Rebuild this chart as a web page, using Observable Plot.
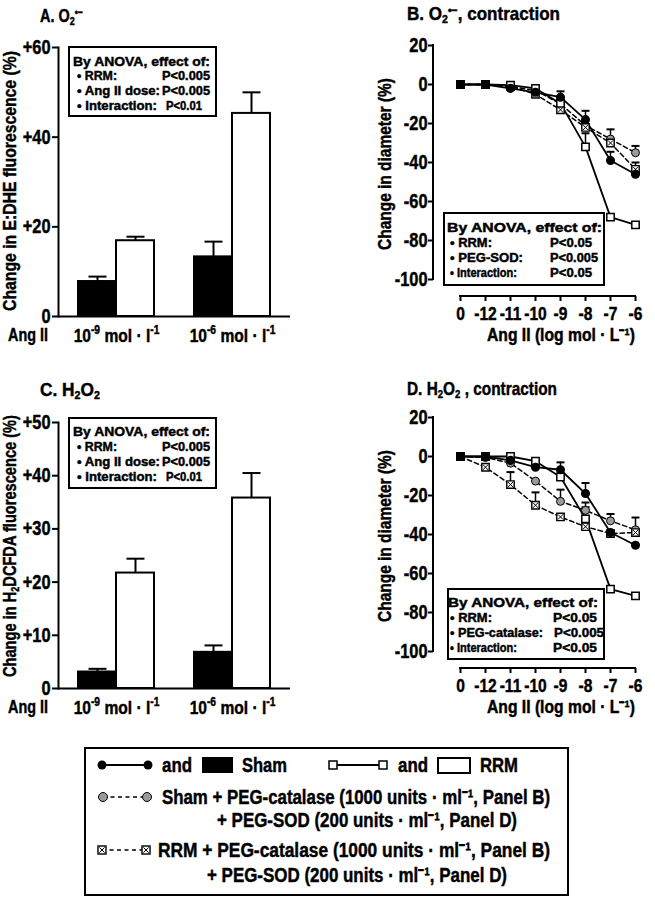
<!DOCTYPE html>
<html><head><meta charset="utf-8">
<script src="https://cdn.jsdelivr.net/npm/d3@7"></script>
<script src="https://cdn.jsdelivr.net/npm/@observablehq/plot@0.6"></script>
<style>
html,body{margin:0;padding:0;background:#fff;}
#fig{position:relative;width:655px;height:900px;overflow:hidden;background:#fff;color:#000;}
.t{position:absolute;white-space:nowrap;line-height:0.82;font-weight:bold;-webkit-text-stroke:0.45px #000;}
.t sup{font-size:0.62em;line-height:0;vertical-align:0.55em;}
.t sub{font-size:0.62em;line-height:0;vertical-align:-0.22em;}
.box{position:absolute;border:2px solid #000;background:#fff;box-sizing:border-box;}
.panel{position:absolute;}
</style></head>
<body><div id="fig"></div>
<script>
// ---------------- DATA ----------------
const doses = ["1e-9", "1e-6"];
const doseLabels = ["10^{-9} mol · l^{-1}", "10^{-6} mol · l^{-1}"];
const groups = ["Sham", "RRM"];

// Panel A: E:DHE fluorescence (%)
const aSham = [7.8, 13.3];
const aShamErr = [1.1, 3.4];
const aRRM = [16.9, 45.3];
const aRRMErr = [0.9, 4.7];
const aTicks = [0, 20, 40, 60];

// Panel C: H2DCFDA fluorescence (%)
const cSham = [3.1, 6.8];
const cShamErr = [0.6, 1.3];
const cRRM = [21.7, 35.8];
const cRRMErr = [2.7, 4.7];
const cTicks = [0, 10, 20, 30, 40, 50];

// Panels B and D: concentration-response
const concLabels = ["0", "-12", "-11", "-10", "-9", "-8", "-7", "-6"];
const lineTicks = [20, 0, -20, -40, -60, -80, -100];

const bSham = [0, 0, -2, -4, -6.5, -18, -39, -46];
const bShamErr = [0, 0, 0, 0, 3, 4.5, 4.5, 0];
const bRRM = [0, 0, -0.3, -2, -9.7, -32, -68, -72];
const bRRMErr = [0, 0, 0, 0, 0, 7, 0, 0];
const bShamPEG = [0, 0, -1, -3, -10, -21, -28, -35];
const bShamPEGErr = [0, 0, 0, 0, 0, 0, 5, 3.5];
const bRRMPEG = [0, 0, -1, -5, -13, -22, -30, -43.5];
const bRRMPEGErr = [0, 0, 0, 0, 0, 0, 0, 3.5];

const dSham = [0, 0, -2, -5.5, -6.8, -19, -39, -45.5];
const dShamErr = [0, 0, 0, 3.5, 3.8, 5.4, 0, 0];
const dRRM = [0, 0, 0, -2.4, -10.5, -32, -68, -71.5];
const dRRMErr = [0, 0, 0, 0, 0, 6, 0, 0];
const dShamPEG = [0, -0.5, -3.4, -12.6, -23, -27.6, -33, -37.6];
const dShamPEGErr = [0, 0, 0, 0, 6, 4, 3.5, 6.3];
const dRRMPEG = [0, -5.5, -14.4, -25, -31, -36, -39.5, -39];
const dRRMPEGErr = [0, 0, 6.4, 6.6, 0, 0, 0, 0];

const anovaA = ["By ANOVA, effect of:", ["• RRM:", "P<0.005"], ["• Ang II dose:", "P<0.005"], ["• Interaction:", "P<0.01"]];
const anovaB = ["By ANOVA, effect of:", ["• RRM:", "P<0.05"], ["• PEG-SOD:", "P<0.005"], ["• Interaction:", "P<0.05"]];
const anovaC = ["By ANOVA, effect of:", ["• RRM:", "P<0.005"], ["• Ang II dose:", "P<0.005"], ["• Interaction:", "P<0.01"]];
const anovaD = ["By ANOVA, effect of:", ["• RRM:", "P<0.05"], ["• PEG-catalase:", "P<0.005"], ["• Interaction:", "P<0.05"]];

// ---------------- HELPERS ----------------
function hasFont(name){const c=document.createElement("canvas").getContext("2d");c.font="bold 40px monospace";const a=c.measureText("abcdefghijklm").width;c.font=`bold 40px "${name}", monospace`;return Math.abs(c.measureText("abcdefghijklm").width-a)>0.5;}
const NARROW = hasFont("Liberation Sans Narrow");
const FONT = NARROW ? '"Liberation Sans Narrow", "Liberation Sans", sans-serif' : '"Liberation Sans", Arial, sans-serif';
const SQ = NARROW ? 1 : 0.82;
const fig = document.getElementById("fig");
fig.style.fontFamily = FONT;
const NS = "http://www.w3.org/2000/svg";

function supHTML(s){return s.replace(/\^\{([^}]*)\}/g, "<sup>$1</sup>");}
const SUPMAP = {"-": "⁻", "0": "⁰", "1": "¹", "2": "²", "3": "³", "4": "⁴", "5": "⁵", "6": "⁶", "7": "⁷", "8": "⁸", "9": "⁹"};
function supUni(s){return s.replace(/\^\{([^}]*)\}/g, (m, g) => [...g].map(c => SUPMAP[c] || c).join(""));}
function parseSup(s){const out=[];const re=/\^\{([^}]*)\}/g;let last=0,m;while((m=re.exec(s))){if(m.index>last)out.push([s.slice(last,m.index),false]);out.push([m[1],true]);last=re.lastIndex;}if(last<s.length)out.push([s.slice(last),false]);return out;}
function richSVG(t, s, base){const parts=parseSup(s);t.textContent="";let up=false;for(const [str,sup] of parts){const sp=document.createElementNS(NS,"tspan");sp.textContent=str;if(sup&&!up){sp.setAttribute("dy",-0.42*base);up=true;}else if(!sup&&up){sp.setAttribute("dy",0.42*base);up=false;}if(sup)sp.setAttribute("font-size",0.66*base);t.appendChild(sp);}}
function squeeze(svg){
  svg.querySelectorAll("text").forEach(t => {
    const x = +(t.getAttribute("x") || 0);
    const tr = t.getAttribute("transform") || "";
    if (SQ !== 1) t.setAttribute("transform", `${tr} translate(${x},0) scale(${SQ},1) translate(${-x},0)`);
    t.setAttribute("stroke", "black"); t.setAttribute("stroke-width", 0.45);
  });
}

function mk(html, {x, y, size=18, w, k, anchor="start", rot=false}) {
  const el = document.createElement("div");
  el.className = "t"; el.innerHTML = html; el.style.fontSize = size + "px";
  fig.appendChild(el);
  const r = el.getBoundingClientRect();
  const nat = r.width, hh = r.height;
  const kk = w ? w / nat : (k ?? SQ);
  el.style.transformOrigin = "0 0";
  if (rot) {
    el.style.left = x + "px"; el.style.top = y + "px";
    el.style.transform = `rotate(-90deg) scaleX(${kk}) translate(-50%,-50%)`;
  } else {
    const left = anchor === "middle" ? x - nat * kk / 2 : x;
    el.style.left = left + "px"; el.style.top = (y - hh / 2) + "px";
    el.style.transform = `scaleX(${kk})`;
  }
  return kk;
}
function addLine(svg, x1, y1, x2, y2, w = 2) {
  d3.select(svg).append("line").attr("x1", x1).attr("y1", y1).attr("x2", x2).attr("y2", y2)
    .attr("stroke", "black").attr("stroke-width", w).attr("stroke-linecap", "square");
}
function mount(svg, left, top) {
  const d = document.createElement("div");
  d.className = "panel"; d.style.left = left + "px"; d.style.top = top + "px";
  d.appendChild(svg); fig.appendChild(d);
}
const capSym = {draw(ctx, size){const h=Math.sqrt(size/Math.PI);ctx.moveTo(-h,0);ctx.lineTo(h,0);}};
const sqSym = {draw(ctx, size){const h=Math.sqrt(size/Math.PI);ctx.rect(-h,-h,2*h,2*h);}};
const xSym = {draw(ctx, size){const h=Math.sqrt(size/Math.PI);ctx.moveTo(-h,-h);ctx.lineTo(h,h);ctx.moveTo(-h,h);ctx.lineTo(h,-h);}};
const plotStyle = `font-family:${FONT};font-size:20px;font-weight:bold;overflow:visible;background:none;color:black;`;

// ---------------- BAR PANELS (A, C) ----------------
function barPanel(sham, shamErr, rrm, rrmErr, yMax, ticks, marginTop, left, top) {
  const rows = doses.map((d, i) => ({dose: d, sham: sham[i], shamErr: shamErr[i], rrm: rrm[i], rrmErr: rrmErr[i]}));
  const plot = Plot.plot({
    width: 320, height: 360, marginLeft: 58, marginRight: 30, marginTop, marginBottom: 44,
    style: plotStyle,
    x: {type: "band", domain: doses, padding: 0},
    y: {domain: [0, yMax]},
    marks: [
      Plot.ruleX(rows, {x: "dose", y1: "sham", y2: d => d.sham + d.shamErr, dx: -19, stroke: "black", strokeWidth: 2}),
      Plot.ruleX(rows, {x: "dose", y1: "rrm", y2: d => d.rrm + d.rrmErr, dx: 19, stroke: "black", strokeWidth: 2}),
      Plot.dot(rows, {x: "dose", y: d => d.sham + d.shamErr, dx: -19, symbol: capSym, r: 9, stroke: "black", strokeWidth: 2, fill: "none"}),
      Plot.dot(rows, {x: "dose", y: d => d.rrm + d.rrmErr, dx: 19, symbol: capSym, r: 9, stroke: "black", strokeWidth: 2, fill: "none"}),
      Plot.barY(rows, {x: "dose", y: "sham", fill: "black", stroke: "black", strokeWidth: 2, insetLeft: 20, insetRight: 58}),
      Plot.barY(rows, {x: "dose", y: "rrm", fill: "white", stroke: "black", strokeWidth: 2, insetLeft: 58, insetRight: 20}),
      Plot.ruleY([0], {stroke: "black", strokeWidth: 2}),
      Plot.frame({anchor: "left", stroke: "black", strokeWidth: 2}),
      Plot.axisY({ticks, tickFormat: d => d > 0 ? `+${d}` : `${d}`, tickSize: 6, tickPadding: 2, strokeWidth: 2, label: null}),
      Plot.axisX({tickSize: 0, tickPadding: 12, fontSize: 19, tickFormat: d => doseLabels[doses.indexOf(d)], label: null})
    ]
  });
  mount(plot, left, top);
  plot.querySelectorAll('[aria-label="x-axis tick label"] text').forEach(t => richSVG(t, t.textContent, 19));
  squeeze(plot);
  return plot;
}

// ---------------- LINE PANELS (B, D) ----------------
function linePanel(S, left, top) {
  const mkRows = (name, v, e) => concLabels.map((c, i) => ({series: name, conc: c, v: v[i], e: e[i]}));
  const sham = mkRows("Sham", S[0], S[1]);
  const rrm = mkRows("RRM", S[2], S[3]);
  const gray = mkRows("Sham+PEG", S[4], S[5]);
  const cross = mkRows("RRM+PEG", S[6], S[7]);
  const errRows = [gray, cross, sham, rrm].flat().filter(d => d.e > 0);
  const plot = Plot.plot({
    width: 325, height: 360, marginLeft: 103, marginRight: 0, marginTop: 45, marginBottom: 64,
    style: plotStyle,
    x: {type: "point", domain: concLabels, range: [117, 317]},
    y: {domain: [-100, 20], range: [279, 45]},
    marks: [
      Plot.line([...gray, ...cross], {x: "conc", y: "v", z: "series", stroke: "black", strokeWidth: 1.5, strokeDasharray: "4.5,3"}),
      Plot.line([...sham, ...rrm], {x: "conc", y: "v", z: "series", stroke: "black", strokeWidth: 1.8}),
      Plot.ruleX(errRows, {x: "conc", y1: "v", y2: d => d.v + d.e, stroke: "black", strokeWidth: 1.5}),
      Plot.dot(errRows, {x: "conc", y: d => d.v + d.e, symbol: capSym, r: 4, stroke: "black", strokeWidth: 2, fill: "none"}),
      Plot.dot(gray, {x: "conc", y: "v", r: 4, fill: "#9a9a9a", stroke: "black", strokeWidth: 1}),
      Plot.dot(cross, {x: "conc", y: "v", symbol: sqSym, r: 3.7, fill: "white", stroke: "black", strokeWidth: 1.4}),
      Plot.dot(cross, {x: "conc", y: "v", symbol: xSym, r: 2.6, fill: "none", stroke: "black", strokeWidth: 1}),
      Plot.dot(rrm, {x: "conc", y: "v", symbol: sqSym, r: 3.7, fill: "white", stroke: "black", strokeWidth: 1.5}),
      Plot.dot(sham, {x: "conc", y: "v", r: 3.8, fill: "black", stroke: "black"}),
      Plot.axisY({ticks: lineTicks, tickFormat: d => String(d), tickSize: 5, tickPadding: 1, strokeWidth: 2, label: null}),
      Plot.axisX({tickSize: 5, tickPadding: 5, fontSize: 19, strokeWidth: 2, label: null})
    ]
  });
  mount(plot, left, top);
  const xs = plot.scale("x"), ys = plot.scale("y");
  addLine(plot, 103, ys.apply(lineTicks[0]), 103, ys.apply(lineTicks[lineTicks.length - 1]));
  addLine(plot, xs.apply(concLabels[0]), 296, xs.apply(concLabels[concLabels.length - 1]), 296);
  squeeze(plot);
  return plot;
}

barPanel(aSham, aShamErr, aRRM, aRRMErr, 60, aTicks, 47, 0, 0);
linePanel([bSham, bShamErr, bRRM, bRRMErr, bShamPEG, bShamPEGErr, bRRMPEG, bRRMPEGErr], 330, 0);
barPanel(cSham, cShamErr, cRRM, cRRMErr, 50, cTicks, 50, 0, 372);
linePanel([dSham, dShamErr, dRRM, dRRMErr, dShamPEG, dShamPEGErr, dRRMPEG, dRRMPEGErr], 330, 372);

// ---------------- TEXT ----------------
const O2rad = 'O<sub>2</sub><sup>•−</sup>';
mk(`A. ${O2rad}`, {x: 40, y: 16, size: 19, w: 43});
mk(`B. ${O2rad}, contraction`, {x: 407, y: 14, size: 19, w: 153});
mk("C. H<sub>2</sub>O<sub>2</sub>", {x: 40, y: 390, size: 19, w: 60});
mk("D. H<sub>2</sub>O<sub>2</sub> , contraction", {x: 407, y: 389, size: 19, w: 150});

mk("Change in E:DHE fluorescence (%)", {x: 10, y: 181, size: 19, w: 260, rot: true});
mk("Change in H<sub>2</sub>DCFDA fluorescence (%)", {x: 10, y: 546, size: 19, w: 262, rot: true});
mk("Change in diameter (%)", {x: 385, y: 164, size: 18, w: 172, rot: true});
mk("Change in diameter (%)", {x: 385, y: 536, size: 18, w: 172, rot: true});

mk("Ang II", {x: 8, y: 335, size: 19, w: 40});
mk("Ang II", {x: 8, y: 707, size: 19, w: 40});
mk(supUni("Ang II (log mol · L^{-1})"), {x: 561, y: 335, size: 18, w: 148, anchor: "middle"});
mk(supUni("Ang II (log mol · L^{-1})"), {x: 561, y: 707, size: 18, w: 148, anchor: "middle"});

// box, title [x, w], first row y and spacing, label columns [x, w], p columns [x, w]
function anovaBox(lines, box, title, y0, dy, labels, ps) {
  const b = document.createElement("div"); b.className = "box";
  b.style.left = box[0] + "px"; b.style.top = box[1] + "px"; b.style.width = box[2] + "px"; b.style.height = box[3] + "px";
  fig.appendChild(b);
  const fs = 12.8;
  mk(lines[0], {x: title[0], y: y0, size: fs, w: title[1]});
  for (let i = 1; i < lines.length; i++) {
    mk(lines[i][0], {x: labels[i - 1][0], y: y0 + i * dy, size: fs, w: labels[i - 1][1]});
    mk(lines[i][1], {x: ps[i - 1][0], y: y0 + i * dy, size: fs, w: ps[i - 1][1]});
  }
}
anovaBox(anovaA, [68, 46, 149, 71], [73, 137], 62, 14.7, [[77, 40], [77, 83], [77, 80]], [[162, 48], [162, 48], [166, 36]]);
anovaBox(anovaB, [443, 212, 162, 74], [447, 155], 228, 15, [[450, 42], [450, 73], [450, 67]], [[550, 42], [550, 48], [550, 42]]);
anovaBox(anovaC, [68, 417, 149, 72], [73, 137], 432, 15.2, [[77, 40], [77, 83], [77, 80]], [[162, 48], [162, 48], [166, 36]]);
anovaBox(anovaD, [447, 588, 158, 72], [448, 150], 603, 15.2, [[450, 42], [450, 93], [450, 67]], [[553, 44], [554, 50], [553, 44]]);

// ---------------- LEGEND ----------------
const lg = document.createElement("div"); lg.className = "box";
Object.assign(lg.style, {left: "84px", top: "747px", width: "485px", height: "149px"});
fig.appendChild(lg);
const sw = d3.select(fig).append("svg").attr("width", 655).attr("height", 900)
  .style("position", "absolute").style("left", 0).style("top", 0).style("pointer-events", "none");
// row 1
sw.append("line").attr("x1", 102).attr("x2", 148).attr("y1", 765).attr("y2", 765).attr("stroke", "black").attr("stroke-width", 2);
[102, 148].forEach(x => sw.append("circle").attr("cx", x).attr("cy", 765).attr("r", 4.5).attr("fill", "black"));
sw.append("rect").attr("x", 202).attr("y", 757).attr("width", 31).attr("height", 16).attr("fill", "black");
sw.append("line").attr("x1", 333).attr("x2", 383).attr("y1", 765).attr("y2", 765).attr("stroke", "black").attr("stroke-width", 2);
[333, 383].forEach(x => sw.append("rect").attr("x", x - 4).attr("y", 761).attr("width", 8).attr("height", 8).attr("fill", "white").attr("stroke", "black").attr("stroke-width", 1.5));
sw.append("rect").attr("x", 438).attr("y", 758).attr("width", 32).attr("height", 15).attr("fill", "white").attr("stroke", "black").attr("stroke-width", 2);
// row 2
sw.append("line").attr("x1", 103).attr("x2", 147).attr("y1", 797).attr("y2", 797).attr("stroke", "black").attr("stroke-width", 1.5).attr("stroke-dasharray", "4,3.5");
[103, 147].forEach(x => sw.append("circle").attr("cx", x).attr("cy", 797).attr("r", 4.5).attr("fill", "#9a9a9a").attr("stroke", "black").attr("stroke-width", 1));
// row 4
sw.append("line").attr("x1", 102).attr("x2", 146).attr("y1", 850).attr("y2", 850).attr("stroke", "black").attr("stroke-width", 1.5).attr("stroke-dasharray", "4,3.5");
[102, 146].forEach(x => {
  sw.append("rect").attr("x", x - 4).attr("y", 846).attr("width", 8).attr("height", 8).attr("fill", "white").attr("stroke", "black").attr("stroke-width", 1.4);
  sw.append("path").attr("d", `M${x-2.6},${850-2.6}L${x+2.6},${850+2.6}M${x-2.6},${850+2.6}L${x+2.6},${850-2.6}`).attr("stroke", "black").attr("stroke-width", 1);
});
const LG = 20;
mk("and", {x: 162, y: 765, size: LG, w: 30});
mk(groups[0], {x: 242, y: 765, size: LG, w: 45});
mk("and", {x: 398, y: 765, size: LG, w: 30});
mk(groups[1], {x: 480, y: 765, size: LG, w: 38});
mk(supUni("Sham + PEG-catalase (1000 units · ml^{-1}, Panel B)"), {x: 162, y: 797, size: LG, w: 388});
mk(supUni("+ PEG-SOD (200 units · ml^{-1}, Panel D)"), {x: 217, y: 820, size: LG, w: 300});
mk(supUni("RRM + PEG-catalase (1000 units · ml^{-1}, Panel B)"), {x: 158, y: 850, size: LG, w: 392});
mk(supUni("+ PEG-SOD (200 units · ml^{-1}, Panel D)"), {x: 207, y: 875, size: LG, w: 300});
</script></body></html>
